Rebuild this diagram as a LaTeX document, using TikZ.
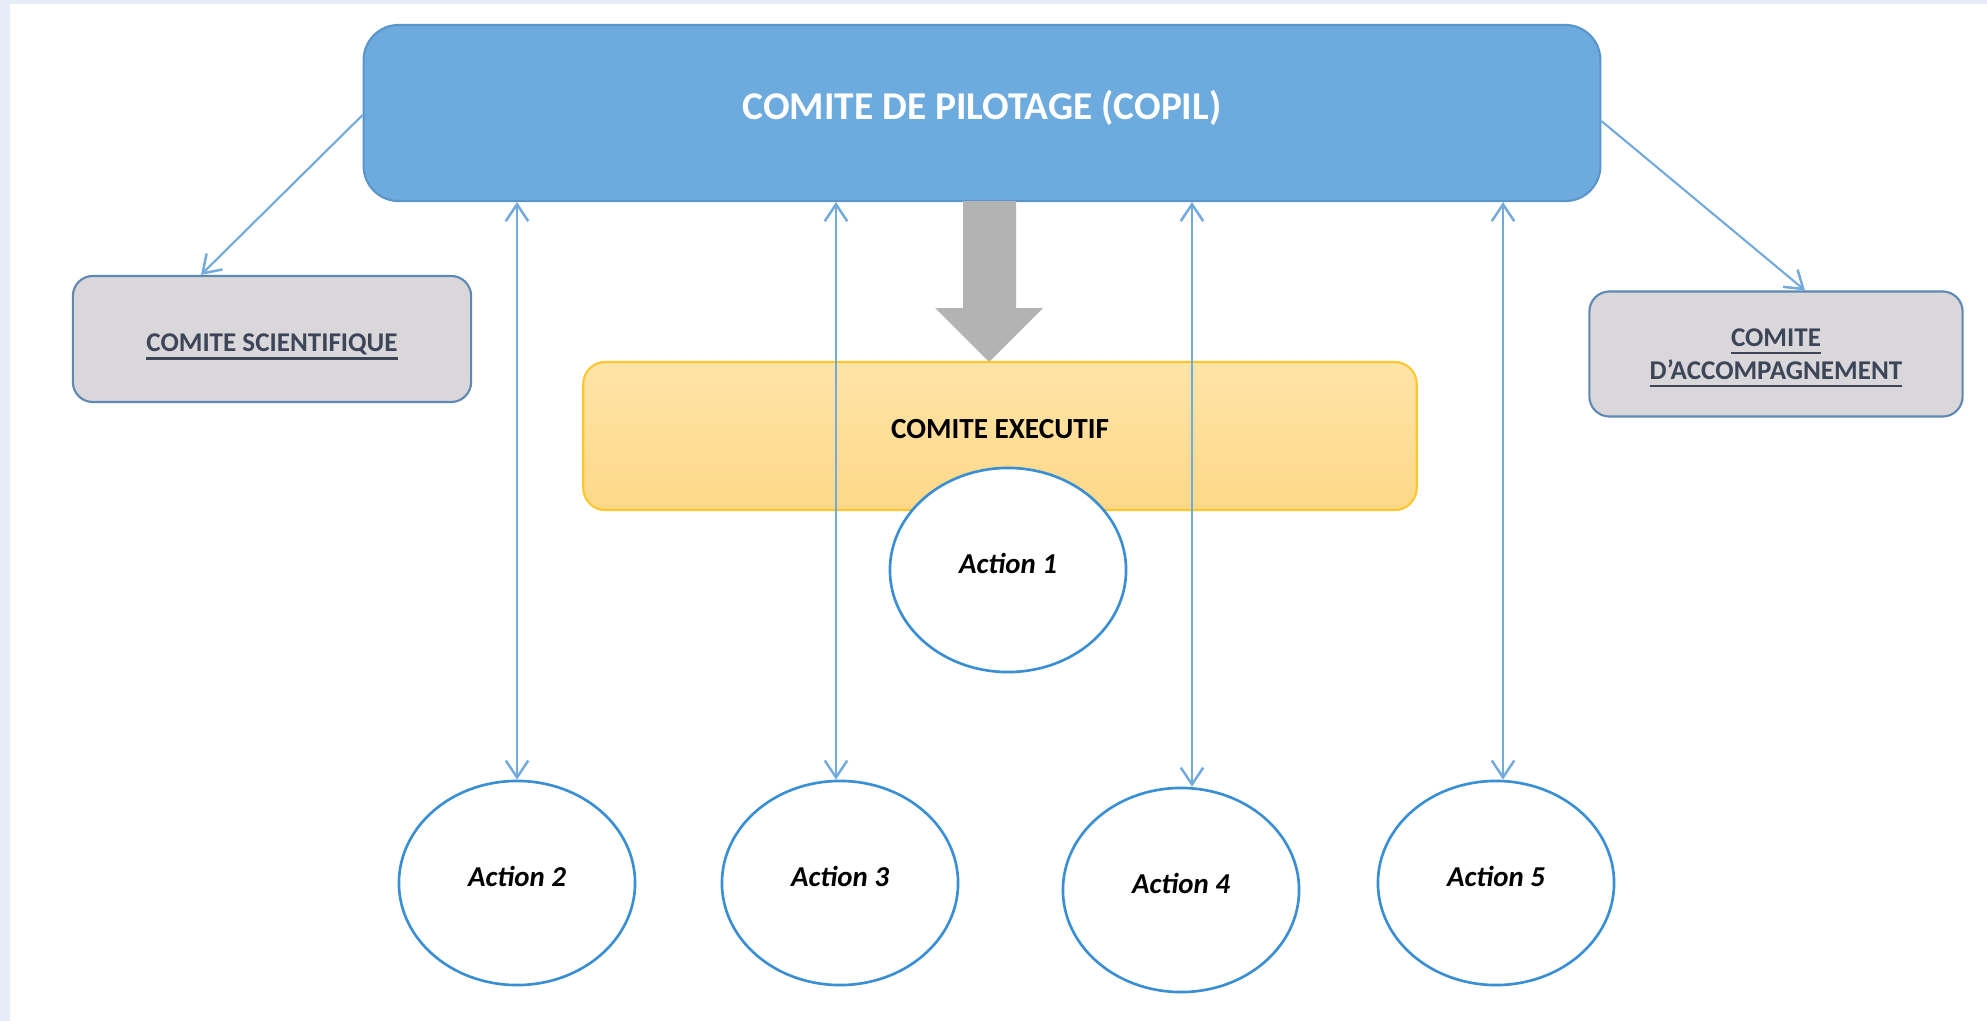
\documentclass[tikz,border=0pt]{standalone}
\usepackage{fontspec}
\setmainfont{Carlito}
\usetikzlibrary{shapes.geometric,arrows.meta,positioning}
\definecolor{copilblue}{HTML}{6DAADD}
\definecolor{copilline}{HTML}{5A95CC}
\definecolor{comgray}{HTML}{D9D7DA}
\definecolor{comline}{HTML}{5F88B4}
\definecolor{comtext}{HTML}{3D4659}
\definecolor{exectop}{HTML}{FFE4A8}
\definecolor{execbot}{HTML}{FDD888}
\definecolor{execline}{HTML}{FFC72C}
\definecolor{actline}{HTML}{3A8FD4}
\definecolor{linkblue}{HTML}{72AADD}
\definecolor{bigarrow}{HTML}{B3B3B3}
\definecolor{frame}{HTML}{E7EDF6}
\newcommand{\undr}[1]{{\setbox0\hbox{#1}\rlap{\smash{\rule[-2.3pt]{\wd0}{0.6pt}}}\box0}}
\newcommand{\up}[2]{\raisebox{#1}{#2}}

\begin{document}
\begin{tikzpicture}[x=0.01cm, y=-0.01cm,
	copilS/.style={draw=copilline, fill=copilblue, rounded corners=0.35cm, line width=0.6pt,
		minimum width=12.36cm, minimum height=1.76cm, text=white,
		font=\fontsize{11.2}{13.4}\selectfont\bfseries},
	comS/.style={draw=comline, fill=comgray, rounded corners=0.2cm, line width=0.6pt,
		text=comtext, align=center, font=\fontsize{7.7}{8.8}\selectfont\bfseries},
	execS/.style={draw=execline, top color=exectop, bottom color=execbot, rounded corners=0.22cm,
		line width=0.6pt, minimum width=8.33cm, minimum height=1.48cm,
		font=\fontsize{8.3}{10}\selectfont\bfseries},
	actS/.style={draw=actline, fill=white, ellipse, line width=0.75pt, inner sep=0pt,
		minimum width=2.36cm, minimum height=2.04cm,
		font=\fontsize{8.2}{9.8}\selectfont\bfseries\itshape},
	link/.style={draw=linkblue, line width=0.6pt},
	>={Straight Barb[length=4.8pt,width=6.4pt,line width=0.7pt]}]

	\useasboundingbox (0,0) rectangle (1987,1021);
	\fill[frame] (0,0) rectangle (1987,1021);
	\fill[white] (10,4) rectangle (1987,1021);

	\node[copilS] (copil) at (982,113) {\up{4.7pt}{COMITE DE PILOTAGE (COPIL)}};
	\node[comS, minimum width=3.98cm, minimum height=1.26cm] (sci) at (272,339) {\raisebox{-1.5pt}[\height][\depth]{\undr{COMITE SCIENTIFIQUE}}};
	\node[comS, minimum width=3.73cm, minimum height=1.25cm] (acc) at (1776,354) {\undr{COMITE}\\[0.6pt]\undr{D'ACCOMPAGNEMENT}};

	% fleche grise
	\fill[bigarrow] (963,201) -- (1016,201) -- (1016,308) -- (1043,308) -- (989,362)
		-- (935,308) -- (963,308) -- cycle;

	\node[execS] (exec) at (1000,436) {\up{4.1pt}{COMITE EXECUTIF}};

	\node[actS] (a1) at (1008,570) {\up{4pt}{Action 1}};
	\node[actS] (a2) at (517,883) {\up{4pt}{Action 2}};
	\node[actS] (a3) at (840,883) {\up{4pt}{Action 3}};
	\node[actS] (a4) at (1181,890) {\up{4pt}{Action 4}};
	\node[actS] (a5) at (1496,883) {\up{4pt}{Action 5}};

	\draw[link,->] ([yshift=-0.02cm]copil.west) -- ([xshift=-0.71cm]sci.north);
	\draw[link,->] ([yshift=-0.08cm]copil.east) -- ([xshift=0.29cm]acc.north);

	\foreach \n/\dx in {2/0,3/-4,4/11,5/7}
		\draw[link,<->] ([xshift=\dx*0.01cm]a\n.north) -- ([xshift=\dx*0.01cm]a\n.north |- copil.south);
\end{tikzpicture}
\end{document}
